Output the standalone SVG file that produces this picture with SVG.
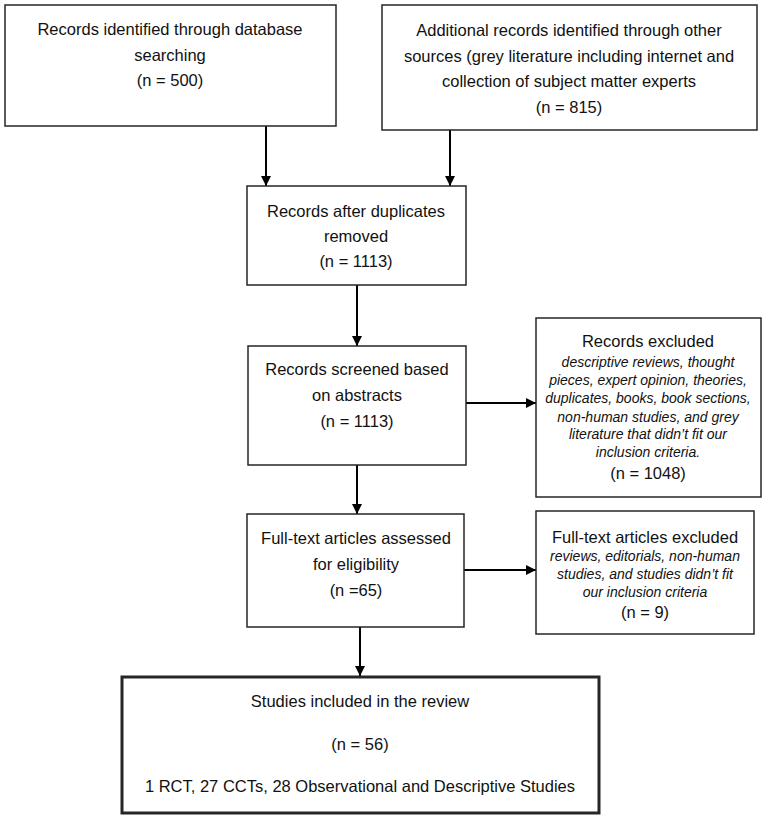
<svg xmlns="http://www.w3.org/2000/svg" width="766" height="819" viewBox="0 0 766 819">
<style>
.box{fill:#fff;stroke:#262626;stroke-width:1.5}
.thick{stroke-width:3}
.t{font-family:"Liberation Sans",Arial,sans-serif;font-size:16.5px;fill:#111;text-anchor:middle}
.i{font-family:"Liberation Sans",Arial,sans-serif;font-size:14px;font-style:italic;fill:#111;text-anchor:middle}
.c{stroke:#000;stroke-width:2;fill:none;marker-end:url(#ah)}
</style>
<defs>
<marker id="ah" viewBox="0 0 10 10" refX="10" refY="5" markerWidth="10" markerHeight="10" markerUnits="userSpaceOnUse" orient="auto">
<path d="M0,0 L10,5 L0,10 z" fill="#000"/>
</marker>
</defs>
<rect width="766" height="819" fill="#fff"/>
<g id="connectors">
<line class="c" x1="266" y1="126" x2="266" y2="186"/>
<line class="c" x1="450" y1="130" x2="450" y2="186"/>
<line class="c" x1="357" y1="285" x2="357" y2="346"/>
<line class="c" x1="466" y1="403" x2="536" y2="403"/>
<line class="c" x1="357" y1="465" x2="357" y2="514"/>
<line class="c" x1="464" y1="570" x2="536" y2="570"/>
<line class="c" x1="360" y1="627" x2="360" y2="676"/>
</g>
<g id="n1">
<rect class="box" x="5" y="5" width="331" height="121"/>
<text class="t" x="170" y="35">Records identified through database</text>
<text class="t" x="170" y="61">searching</text>
<text class="t" x="170" y="86">(n = 500)</text>
</g>
<g id="n2">
<rect class="box" x="382" y="5" width="375" height="125"/>
<text class="t" x="569" y="36">Additional records identified through other</text>
<text class="t" x="569" y="62">sources (grey literature including internet and</text>
<text class="t" x="569" y="87">collection of subject matter experts</text>
<text class="t" x="569" y="113">(n = 815)</text>
</g>
<g id="n3">
<rect class="box" x="247" y="186" width="219" height="99"/>
<text class="t" x="356" y="217">Records after duplicates</text>
<text class="t" x="356" y="242">removed</text>
<text class="t" x="356" y="267">(n = 1113)</text>
</g>
<g id="n4">
<rect class="box" x="248" y="346" width="218" height="119"/>
<text class="t" x="357" y="375">Records screened based</text>
<text class="t" x="357" y="401">on abstracts</text>
<text class="t" x="357" y="427">(n = 1113)</text>
</g>
<g id="n5">
<rect class="box" x="536" y="318" width="225" height="179"/>
<text class="t" x="648" y="347">Records excluded</text>
<text class="i" x="648" y="367">descriptive reviews, thought</text>
<text class="i" x="648" y="385">pieces, expert opinion, theories,</text>
<text class="i" x="648" y="403">duplicates, books, book sections,</text>
<text class="i" x="648" y="422">non-human studies, and grey</text>
<text class="i" x="648" y="439">literature that didn’t fit our</text>
<text class="i" x="648" y="457">inclusion criteria.</text>
<text class="t" x="648" y="479">(n = 1048)</text>
</g>
<g id="n6">
<rect class="box" x="247" y="514" width="217" height="113"/>
<text class="t" x="356" y="544">Full-text articles assessed</text>
<text class="t" x="356" y="570">for eligibility</text>
<text class="t" x="356" y="596">(n =65)</text>
</g>
<g id="n7">
<rect class="box" x="536" y="511" width="218" height="123"/>
<text class="t" x="645" y="543">Full-text articles excluded</text>
<text class="i" x="645" y="561">reviews, editorials, non-human</text>
<text class="i" x="645" y="579">studies, and studies didn’t fit</text>
<text class="i" x="645" y="597">our inclusion criteria</text>
<text class="t" x="645" y="618">(n = 9)</text>
</g>
<g id="n8">
<rect class="box thick" x="122" y="677" width="477" height="136"/>
<text class="t" x="360" y="707">Studies included in the review</text>
<text class="t" x="360" y="750">(n = 56)</text>
<text class="t" x="360" y="792">1 RCT, 27 CCTs, 28 Observational and Descriptive Studies</text>
</g>
</svg>
